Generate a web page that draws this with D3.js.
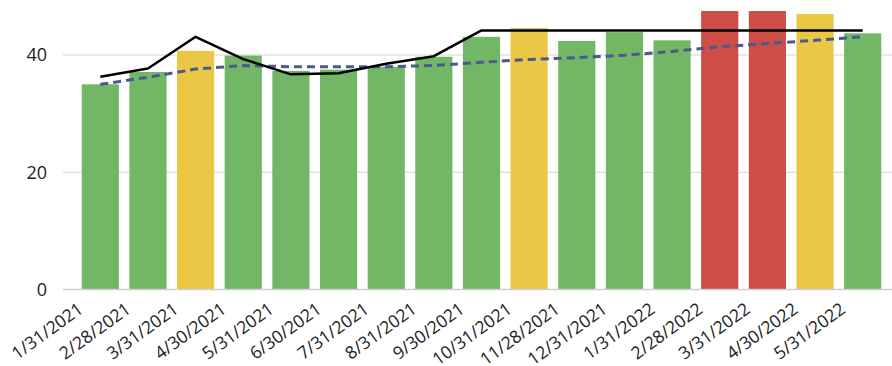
<!DOCTYPE html>
<html>
<head>
<meta charset="utf-8">
<script src="https://cdn.jsdelivr.net/npm/d3@7"></script>
<style>
  html, body { margin: 0; padding: 0; background: #fff; }
  svg { display: block; font-family: "Open Sans", "Noto Sans", sans-serif; }
</style>
</head>
<body>
<svg id="chart" width="892" height="366"></svg>
<script>
// Monthly values, status colour per month, and two reference lines
const months = ["1/31/2021","2/28/2021","3/31/2021","4/30/2021","5/31/2021","6/30/2021",
  "7/31/2021","8/31/2021","9/30/2021","10/31/2021","11/28/2021","12/31/2021",
  "1/31/2022","2/28/2022","3/31/2022","4/30/2022","5/31/2022"];
const values = [35.0, 37.1, 40.7, 39.9, 37.3, 37.5, 38.0, 39.7, 43.1, 44.6, 42.4, 43.9,
  42.5, 47.5, 47.5, 47.0, 43.7];
const status = ["ok","ok","warn","ok","ok","ok","ok","ok","ok","warn","ok","ok",
  "ok","bad","bad","warn","ok"];
const targetLine = [36.3, 37.7, 43.1, 39.3, 36.7, 36.9, 38.5, 39.8, 44.2, 44.2, 44.2, 44.2,
  44.2, 44.2, 44.2, 44.2, 44.2];
const trendLine = [35.0, 36.2, 37.6, 38.2, 38.0, 38.0, 38.0, 38.2, 38.75, 39.25, 39.55, 39.95,
  40.6, 41.4, 41.95, 42.5, 43.1];
const yTicks = [0, 20, 40];

const statusColor = { ok: "#72b765", warn: "#ebc746", bad: "#cd4d47" };

const svg = d3.select("#chart");

const x = d3.scaleBand()
  .domain(months)
  .range([76.5, 886.5])
  .paddingInner(0.22)
  .paddingOuter(0.11);

const y = d3.scaleLinear()
  .domain([0, 48.5])
  .range([289.5, 289.5 - 48.5 * 5.8625]);

// Horizontal gridlines
svg.append("g")
  .selectAll("line")
  .data(yTicks.filter(d => d > 0))
  .join("line")
  .attr("x1", 63).attr("x2", 892)
  .attr("y1", d => y(d)).attr("y2", d => y(d))
  .attr("stroke", "#d4d4d4")
  .attr("stroke-width", 1.2);

// Y tick labels
svg.append("g")
  .selectAll("text")
  .data(yTicks)
  .join("text")
  .attr("x", 47)
  .attr("y", d => y(d))
  .attr("dy", "0.36em")
  .attr("text-anchor", "end")
  .attr("font-size", 18)
  .attr("fill", "#222")
  .text(d => d);

// Bars
svg.append("g")
  .selectAll("rect")
  .data(months)
  .join("rect")
  .attr("x", d => x(d))
  .attr("width", x.bandwidth())
  .attr("y", (d, i) => y(values[i]))
  .attr("height", (d, i) => y(0) - y(values[i]))
  .attr("fill", (d, i) => statusColor[status[i]]);

// Baseline axis
svg.append("line")
  .attr("x1", 63).attr("x2", 892)
  .attr("y1", y(0)).attr("y2", y(0))
  .attr("stroke", "#cfcfcf")
  .attr("stroke-width", 1.5);

const cx = d => x(d) + x.bandwidth() / 2;

// Dashed trend line
svg.append("path")
  .datum(months)
  .attr("fill", "none")
  .attr("stroke", "#4b5a8e")
  .attr("stroke-width", 3)
  .attr("stroke-dasharray", "8,5")
  .attr("d", d3.line().x(cx).y((d, i) => y(trendLine[i])));

// Solid target line
svg.append("path")
  .datum(months)
  .attr("fill", "none")
  .attr("stroke", "#000")
  .attr("stroke-width", 2.5)
  .attr("stroke-linejoin", "round")
  .attr("d", d3.line().x(cx).y((d, i) => y(targetLine[i])));

// Rotated month labels
svg.append("g")
  .selectAll("text")
  .data(months)
  .join("text")
  .attr("text-anchor", "end")
  .attr("font-size", 17.5)
  .attr("fill", "#222")
  .attr("transform", d => `translate(${cx(d) - 16},${y(0) + 22}) rotate(-36)`)
  .text(d => d);
</script>
</body>
</html>
